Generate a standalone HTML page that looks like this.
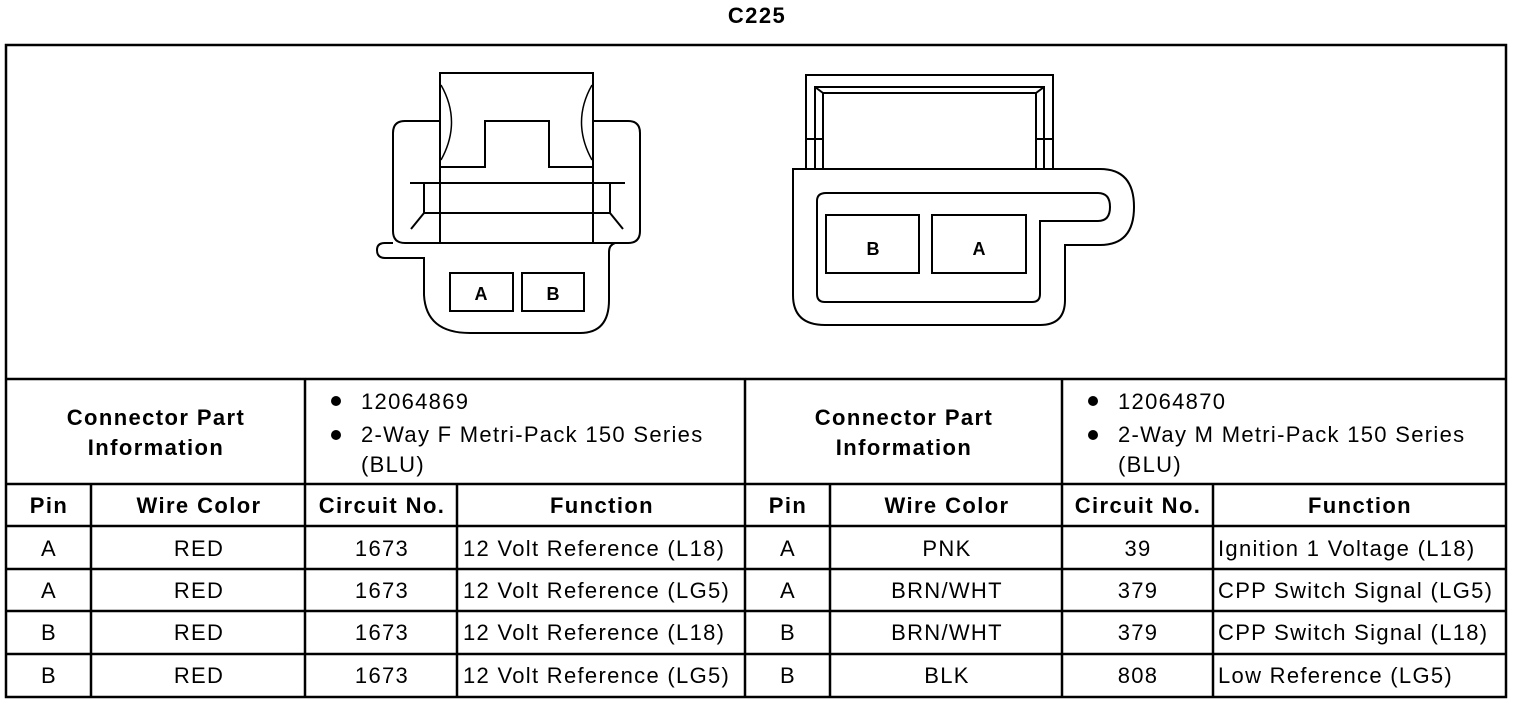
<!DOCTYPE html>
<html><head><style>
body{margin:0;background:#fff}
svg{display:block}
text{font-family:"Liberation Sans",Arial,sans-serif;fill:#000}
.b{font-weight:bold;font-size:22px;letter-spacing:1.4px}
.n{font-size:22px;letter-spacing:1.3px}
</style></head><body>
<svg width="1520" height="704" viewBox="0 0 1520 704" xmlns="http://www.w3.org/2000/svg">
<text x="757" y="23" class="b" text-anchor="middle">C225</text>
<g fill="none" stroke="#000" stroke-width="2.5">
<rect x="6" y="45" width="1500" height="652"/>
<line x1="6" y1="379" x2="1506" y2="379"/>
<line x1="6" y1="484" x2="1506" y2="484"/>
<line x1="6" y1="526" x2="1506" y2="526"/>
<line x1="6" y1="569" x2="1506" y2="569"/>
<line x1="6" y1="611" x2="1506" y2="611"/>
<line x1="6" y1="654" x2="1506" y2="654"/>
<line x1="305" y1="379" x2="305" y2="697"/>
<line x1="745" y1="379" x2="745" y2="697"/>
<line x1="1062" y1="379" x2="1062" y2="697"/>
<line x1="91" y1="484" x2="91" y2="697"/>
<line x1="457" y1="484" x2="457" y2="697"/>
<line x1="830" y1="484" x2="830" y2="697"/>
<line x1="1213" y1="484" x2="1213" y2="697"/>
</g>
<!-- connector 1 -->
<g fill="none" stroke="#000" stroke-width="2">
<path d="M440 121 H405 Q393 121 393 133 V231 Q393 243 405 243 H628 Q640 243 640 231 V133 Q640 121 628 121 H593"/>
<path d="M440 243 V73 H593 V243"/>
<path d="M440 167 H485 V121 H549 V167 H593"/>
<line x1="410" y1="183" x2="625" y2="183"/>
<rect x="424" y="183" width="186" height="30"/>
<line x1="424" y1="213" x2="411" y2="229"/>
<line x1="610" y1="213" x2="623" y2="229"/>
<path d="M441 85 Q462 122 441 160" stroke-width="1.5"/>
<path d="M592 85 Q571 122 592 160" stroke-width="1.5"/>
<path d="M393 243 H385 Q377 243 377 250 Q377 258 385 258 H424 V295 Q426 333 470 333 H580 Q609 333 609 300 V252 Q609 245 615 243"/>
<rect x="450" y="273" width="63" height="38"/>
<rect x="522" y="273" width="62" height="38"/>
</g>
<text x="481" y="300" class="b" text-anchor="middle" style="font-size:18px;letter-spacing:0">A</text>
<text x="553" y="300" class="b" text-anchor="middle" style="font-size:18px;letter-spacing:0">B</text>
<!-- connector 2 -->
<g fill="none" stroke="#000" stroke-width="2">
<path d="M806 169 V75 H1053 V169"/>
<path d="M815 169 V87 H1044 V169"/>
<path d="M823 169 V93 H1036 V169"/>
<line x1="815" y1="87" x2="823" y2="93"/>
<line x1="1044" y1="87" x2="1036" y2="93"/>
<path d="M806 139 H823 M1036 139 H1053"/>
<path d="M793 169 H1100 Q1134 169 1134 207 Q1134 245 1100 245 H1065 V300 Q1065 325 1040 325 H825 Q793 325 793 295 Z"/>
<path d="M826 193 H1098 Q1110 193 1110 207 Q1110 221 1098 221 H1040 V294 Q1040 302 1032 302 H825 Q817 302 817 294 V201 Q817 193 826 193 Z"/>
<rect x="826" y="215" width="93" height="58"/>
<rect x="932" y="215" width="94" height="58"/>
</g>
<text x="873" y="255" class="b" text-anchor="middle" style="font-size:18px;letter-spacing:0">B</text>
<text x="979" y="255" class="b" text-anchor="middle" style="font-size:18px;letter-spacing:0">A</text>
<!-- table text -->
<text x="156" y="425" class="b" text-anchor="middle">Connector Part</text>
<text x="156" y="455" class="b" text-anchor="middle">Information</text>
<text x="904" y="425" class="b" text-anchor="middle">Connector Part</text>
<text x="904" y="455" class="b" text-anchor="middle">Information</text>
<circle cx="336" cy="401" r="5"/><circle cx="336" cy="435" r="5"/>
<text x="361" y="409" class="n">12064869</text>
<text x="361" y="442" class="n">2-Way F Metri-Pack 150 Series</text>
<text x="361" y="472" class="n">(BLU)</text>
<circle cx="1093" cy="401" r="5"/><circle cx="1093" cy="435" r="5"/>
<text x="1118" y="409" class="n">12064870</text>
<text x="1118" y="442" class="n">2-Way M Metri-Pack 150 Series</text>
<text x="1118" y="472" class="n">(BLU)</text>
<g class="b" text-anchor="middle">
<text x="49" y="513">Pin</text><text x="199" y="513">Wire Color</text><text x="382" y="513">Circuit No.</text><text x="602" y="513">Function</text>
<text x="788" y="513">Pin</text><text x="947" y="513">Wire Color</text><text x="1138" y="513">Circuit No.</text><text x="1360" y="513">Function</text>
</g>
<g class="n" text-anchor="middle">
<text x="49" y="556">A</text><text x="199" y="556">RED</text><text x="382" y="556">1673</text>
<text x="788" y="556">A</text><text x="947" y="556">PNK</text><text x="1138" y="556">39</text>
<text x="49" y="598">A</text><text x="199" y="598">RED</text><text x="382" y="598">1673</text>
<text x="788" y="598">A</text><text x="947" y="598">BRN/WHT</text><text x="1138" y="598">379</text>
<text x="49" y="640">B</text><text x="199" y="640">RED</text><text x="382" y="640">1673</text>
<text x="788" y="640">B</text><text x="947" y="640">BRN/WHT</text><text x="1138" y="640">379</text>
<text x="49" y="683">B</text><text x="199" y="683">RED</text><text x="382" y="683">1673</text>
<text x="788" y="683">B</text><text x="947" y="683">BLK</text><text x="1138" y="683">808</text>
</g>
<g class="n">
<text x="463" y="556">12 Volt Reference (L18)</text>
<text x="463" y="598">12 Volt Reference (LG5)</text>
<text x="463" y="640">12 Volt Reference (L18)</text>
<text x="463" y="683">12 Volt Reference (LG5)</text>
<text x="1218" y="556">Ignition 1 Voltage (L18)</text>
<text x="1218" y="598">CPP Switch Signal (LG5)</text>
<text x="1218" y="640">CPP Switch Signal (L18)</text>
<text x="1218" y="683">Low Reference (LG5)</text>
</g>
</svg>
</body></html>
